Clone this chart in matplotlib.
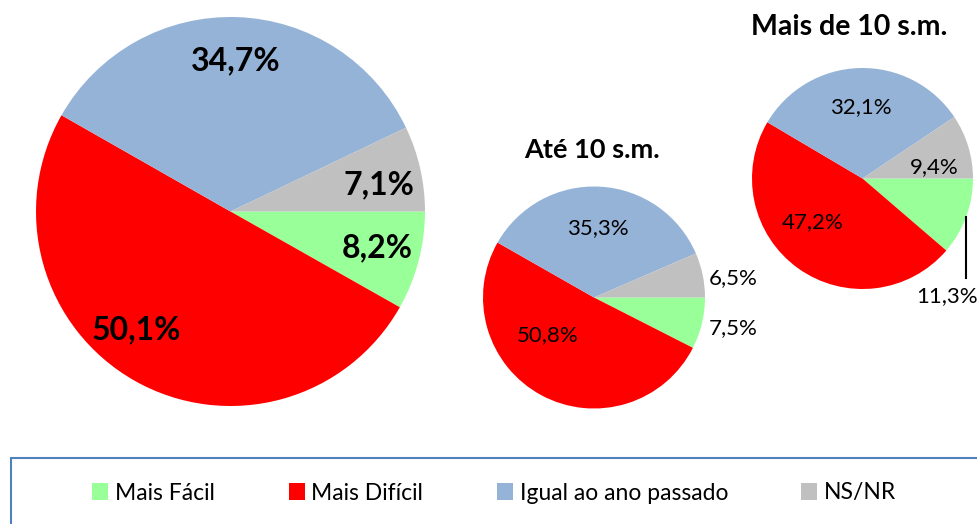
import numpy as np
import matplotlib
matplotlib.use("Agg")
import matplotlib.pyplot as plt
from matplotlib.patches import Patch, Rectangle

plt.rcParams['font.family'] = ['Lato', 'DejaVu Sans']

# categorias e cores
categorias = ['Mais Fácil', 'Mais Difícil', 'Igual ao ano passado', 'NS/NR']
cores = ['#99FF99', '#FF0000', '#95B3D7', '#C0C0C0']

# valores (%)
total = [8.2, 50.1, 34.7, 7.1]
ate_10 = [7.5, 50.8, 35.3, 6.5]
mais_10 = [11.3, 47.2, 32.1, 9.4]

W, H = 978, 524
fig = plt.figure(figsize=(W / 100, H / 100), dpi=100)


def eixo_pizza(cx, cy, r):
    # cx, cy, r em pixels (y de cima para baixo)
    ax = fig.add_axes([(cx - r) / W, (H - cy - r) / H, 2 * r / W, 2 * r / H])
    return ax


def fmt(v):
    return f'{v:.1f}'.replace('.', ',') + '%'


def desenha(ax, valores):
    wedges, _ = ax.pie(valores, colors=cores, startangle=0, counterclock=False,
                       radius=1, wedgeprops=dict(linewidth=0))
    ax.set_xlim(-1, 1)
    ax.set_ylim(-1, 1)
    ax.set_aspect('equal')
    return wedges


def meio(w):
    return np.deg2rad((w.theta1 + w.theta2) / 2)


def rotulo(ax, w, v, dist, desvio=0, **kw):
    a = meio(w) + np.deg2rad(desvio)
    ax.text(dist * np.cos(a), dist * np.sin(a), fmt(v), ha='center', va='center', **kw)


# pizza grande (total)
ax1 = eixo_pizza(230.5, 211.5, 194.5)
w1 = desenha(ax1, total)
desvios1 = [1, -9, 0, -2.5]
for w, v, d in zip(w1, total, desvios1):
    rotulo(ax1, w, v, 0.775, d, fontsize=23, fontweight='bold')

# até 10 s.m.
ax2 = eixo_pizza(594, 297.5, 111)
w2 = desenha(ax2, ate_10)
ax2.text(-0.02, 1.33, 'Até 10 s.m.', ha='center', va='center', fontsize=19.5, fontweight='bold')
rotulo(ax2, w2[2], ate_10[2], 0.63, 0, fontsize=16)
rotulo(ax2, w2[1], ate_10[1], 0.54, -23, fontsize=16)
for i, dy in [(3, -0.03), (0, -0.04)]:
    a = meio(w2[i])
    ax2.text(1.03, np.sin(a) + dy, fmt(ate_10[i]), ha='left', va='center', fontsize=16)

# mais de 10 s.m.
ax3 = eixo_pizza(862.5, 178.5, 110.5)
w3 = desenha(ax3, mais_10)
ax3.text(-0.12, 1.37, 'Mais de 10 s.m.', ha='center', va='center', fontsize=20.5, fontweight='bold')
rotulo(ax3, w3[2], mais_10[2], 0.65, 0, fontsize=16)
rotulo(ax3, w3[3], mais_10[3], 0.66, -8, fontsize=16)
rotulo(ax3, w3[1], mais_10[1], 0.60, -13, fontsize=16)
a = meio(w3[0])
xl = np.cos(a)
ax3.plot([xl, xl], [np.sin(a), -0.90], color='black', lw=1.5, clip_on=False)
ax3.text(0.765, -1.06, fmt(mais_10[0]), ha='center', va='center', fontsize=16)

# moldura da legenda
fig.patches.append(Rectangle((11 / W, -0.05), 1.0, (H - 458) / H + 0.05,
                             transform=fig.transFigure, fill=False,
                             edgecolor='#4F81BD', linewidth=1.5))

handles = [Patch(facecolor=c, edgecolor='none') for c in cores]
fig.legend(handles, categorias, loc='center', bbox_to_anchor=(494.5 / W, (H - 493) / H),
           ncol=4, frameon=False, fontsize=16.5, handlelength=0.7, handleheight=0.7,
           handletextpad=0.3, columnspacing=3.2)

fig.savefig('out.png', dpi=100)
